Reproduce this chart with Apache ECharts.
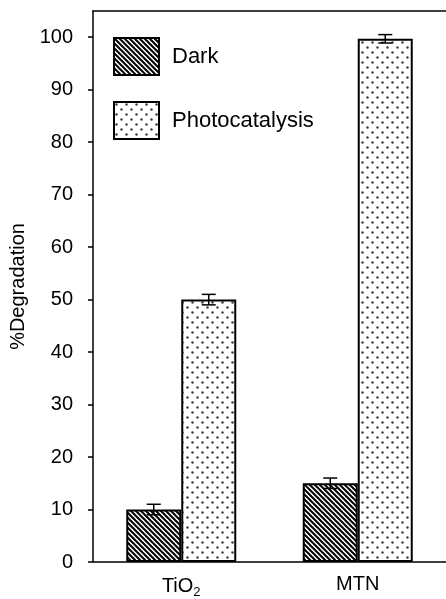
<html>
<head>
<meta charset="utf-8">
<script src="https://cdn.jsdelivr.net/npm/echarts@6/dist/echarts.min.js"></script>
<style>
	body{margin:0;background:#fff;}
	#chart{width:446px;height:599px;}
</style>
</head>
<body>
<div id="chart"></div>
<script>
	// data
	var categories = ['TiO2', 'MTN'];
	var darkValues = [10, 15];
	var darkErrors = [1, 1];
	var photoValues = [50, 99.7];
	var photoErrors = [1, 0.8];
	var yTicks = [0, 10, 20, 30, 40, 50, 60, 70, 80, 90, 100];

	var BAR_W = 55;
	var FONT = 'Liberation Sans, Arial, sans-serif';

	// hatched fill for "Dark"
	function stripePattern(){
		var s = 5;
		var c = document.createElement('canvas');
		c.width = s; c.height = s;
		var g = c.getContext('2d');
		g.fillStyle = '#fff';
		g.fillRect(0, 0, s, s);
		g.strokeStyle = '#000';
		g.lineWidth = 2;
		g.beginPath();
		g.moveTo(-1, -1); g.lineTo(s + 1, s + 1);
		g.moveTo(-1, s - 1); g.lineTo(1, s + 1);
		g.moveTo(s - 1, -1); g.lineTo(s + 1, 1);
		g.stroke();
		return c;
	}

	// dotted fill for "Photocatalysis"
	function dotPattern(){
		var s = 10;
		var c = document.createElement('canvas');
		c.width = s; c.height = s;
		var g = c.getContext('2d');
		g.fillStyle = '#fff';
		g.fillRect(0, 0, s, s);
		g.fillStyle = '#3a3a3a';
		g.beginPath(); g.arc(2.5, 2.5, 1.2, 0, Math.PI * 2); g.fill();
		g.beginPath(); g.arc(7.5, 7.5, 1.2, 0, Math.PI * 2); g.fill();
		return c;
	}

	var darkFill = {image: stripePattern(), repeat: 'repeat'};
	var photoFill = {image: dotPattern(), repeat: 'repeat'};

	function errData(vals, errs){
		var out = [];
		for (var i = 0; i < vals.length; i++) {
			out.push([i, vals[i], errs[i]]);
		}
		return out;
	}

	function errRender(side){
		return function(params, api){
			var i = api.value(0);
			var v = api.value(1);
			var e = api.value(2);
			var top = api.coord([i, v + e]);
			var bot = api.coord([i, v - e]);
			var x = top[0] + side * BAR_W / 2;
			var cap = 7;
			var st = {stroke: '#000', lineWidth: 1.5};
			return {
				type: 'group',
				children: [
					{type: 'line', shape: {x1: x, y1: top[1], x2: x, y2: bot[1]}, style: st},
					{type: 'line', shape: {x1: x - cap, y1: top[1], x2: x + cap, y2: top[1]}, style: st},
					{type: 'line', shape: {x1: x - cap, y1: bot[1], x2: x + cap, y2: bot[1]}, style: st}
				]
			};
		};
	}

	var myChart = echarts.init(document.getElementById('chart'));
	var option = {
		animation: false,
		backgroundColor: '#fff',
		grid: {left: 93, right: 0, top: 11, bottom: 34},
		legend: {
			orient: 'vertical',
			left: 108,
			top: 32,
			icon: 'rect',
			itemWidth: 45,
			itemHeight: 37,
			itemGap: 25,
			data: ['Dark', 'Photocatalysis'],
			textStyle: {fontFamily: FONT, fontSize: 22, color: '#000', padding: [0, 0, 0, 8]}
		},
		xAxis: [
			{
				type: 'category',
				data: categories,
				axisLine: {lineStyle: {color: '#000', width: 1.5}},
				axisTick: {show: false},
				axisLabel: {
					margin: 12,
					fontFamily: FONT,
					fontSize: 20,
					color: '#000',
					formatter: function(v){
						return v === 'TiO2' ? 'TiO{sub|2}' : v;
					},
					rich: {
						sub: {fontFamily: FONT, fontSize: 13, color: '#000', verticalAlign: 'bottom', padding: [12, 0, 0, 0]}
					}
				}
			},
			{
				type: 'category',
				position: 'top',
				data: categories,
				axisLine: {lineStyle: {color: '#000', width: 1.5}},
				axisTick: {show: false},
				axisLabel: {show: false}
			}
		],
		yAxis: {
			type: 'value',
			min: 0,
			max: 105,
			interval: 10,
			name: '%Degradation',
			nameLocation: 'middle',
			nameGap: 64,
			nameTextStyle: {fontFamily: FONT, fontSize: 20, color: '#000'},
			axisLine: {show: true, lineStyle: {color: '#000', width: 1.5}},
			axisTick: {show: true, length: 5, customValues: yTicks, lineStyle: {color: '#000', width: 1.5}},
			axisLabel: {customValues: yTicks, margin: 20, fontFamily: FONT, fontSize: 20, color: '#000'},
			splitLine: {show: false}
		},
		series: [
			{
				name: 'Dark',
				type: 'bar',
				barWidth: BAR_W,
				barGap: '0%',
				data: darkValues,
				itemStyle: {color: darkFill, borderColor: '#000', borderWidth: 2}
			},
			{
				name: 'Photocatalysis',
				type: 'bar',
				barWidth: BAR_W,
				barGap: '0%',
				data: photoValues,
				itemStyle: {color: photoFill, borderColor: '#000', borderWidth: 2}
			},
			{
				type: 'custom',
				renderItem: errRender(-1),
				data: errData(darkValues, darkErrors),
				z: 5
			},
			{
				type: 'custom',
				renderItem: errRender(1),
				data: errData(photoValues, photoErrors),
				z: 5
			}
		]
	};
	myChart.setOption(option);
</script>
</body>
</html>
